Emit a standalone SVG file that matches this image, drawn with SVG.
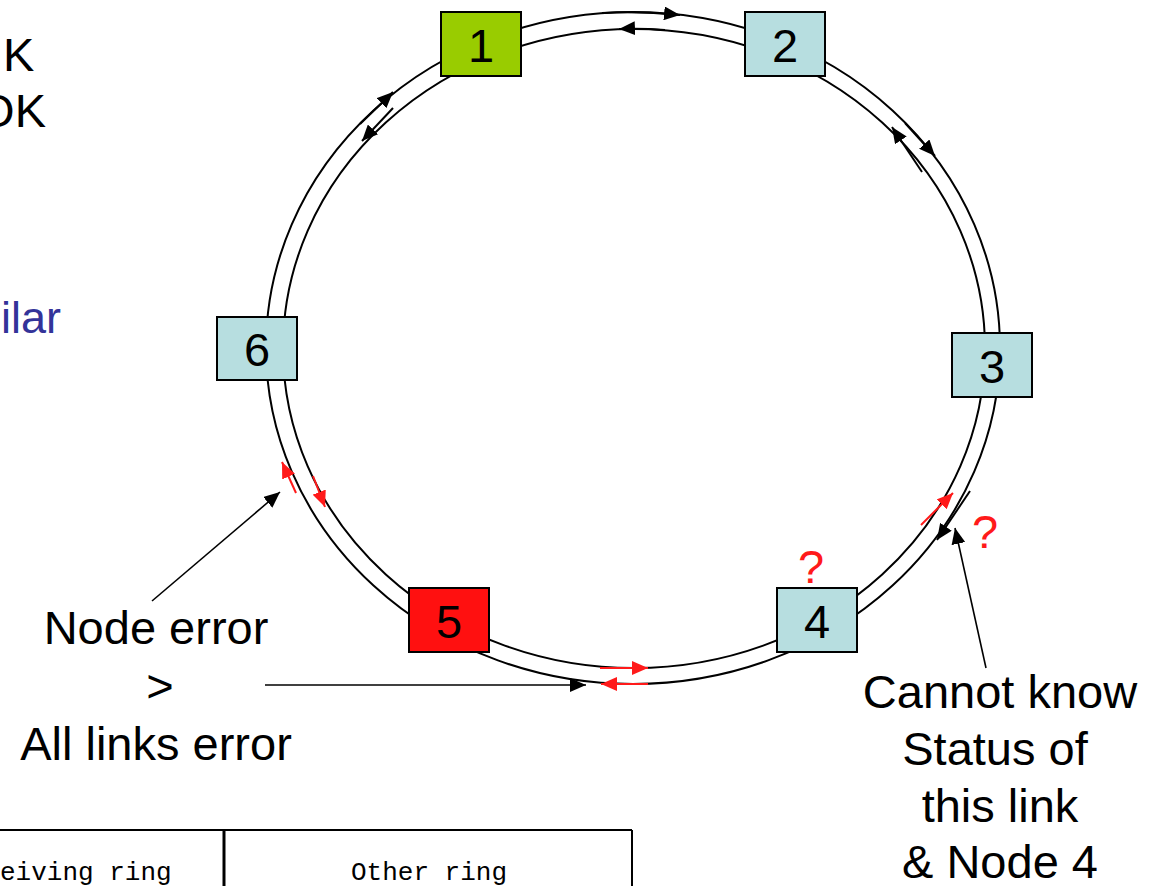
<svg xmlns="http://www.w3.org/2000/svg" width="1160" height="886" viewBox="0 0 1160 886">
  <style>
    .ring { fill: none; stroke: #000; stroke-width: 2; }
    .box { stroke: #000; stroke-width: 2; }
    .blue { fill: #b7dee0; }
    .lbl { font-family: "Liberation Sans", Arial, sans-serif; font-size: 47px; fill: #000; }
    .mid { text-anchor: middle; }
    .flow { fill: none; stroke: #000; stroke-width: 2; marker-end: url(#ah); }
    .flow-red { fill: none; stroke: #ff1a1a; stroke-width: 2; marker-end: url(#ahr); }
    .call { fill: none; stroke: #000; stroke-width: 1.6; marker-end: url(#ah); }
    .tbl { font-family: "Liberation Mono", "Courier New", monospace; font-size: 26px; fill: #000; }
  </style>
  <defs>
    <marker id="ah" markerUnits="userSpaceOnUse" markerWidth="18" markerHeight="14" refX="16" refY="7" orient="auto">
      <path d="M0,0 L16,7 L0,14 Z" fill="#000"/>
    </marker>
    <marker id="ahr" markerUnits="userSpaceOnUse" markerWidth="18" markerHeight="14" refX="16" refY="7" orient="auto">
      <path d="M0,0 L16,7 L0,14 Z" fill="#ff1a1a"/>
    </marker>
  </defs>

  <rect width="1160" height="886" fill="#fff"/>

  <!-- side text running off the left edge -->
  <text class="lbl" x="3" y="71">K</text>
  <text class="lbl" x="46" y="127" text-anchor="end">OK</text>
  <text x="1" y="333" font-family="Liberation Sans, Arial, sans-serif" font-size="45" fill="#333399">ilar</text>

  <!-- double ring -->
  <g id="ring">
    <ellipse class="ring" cx="633" cy="348" rx="367" ry="336"/>
    <ellipse class="ring" cx="634" cy="348.5" rx="351" ry="319.5"/>
  </g>

  <!-- connectors: ring traffic and callouts -->
  <g id="connectors">
    <path class="flow" d="M602,13 Q640,11 680,15"/>
    <path class="flow" d="M665,30 Q640,28 619,29"/>
    <path class="flow" d="M360,124 L393,92"/>
    <path class="flow" d="M393,108 L362,141"/>
    <path class="flow" d="M922,172 L892,127"/>
    <path class="flow" d="M905,123 L935,156"/>
    <path class="flow-red" d="M921,525 L953,493"/>
    <path class="flow" d="M970,491 L937,540"/>
    <path class="flow-red" d="M296,493 L282,462"/>
    <path class="flow-red" d="M313,476 L325,507"/>
    <path class="flow-red" d="M600,668 L648,668"/>
    <path class="flow-red" d="M648,684 L601,684"/>
    <path class="call" d="M152,601 L280,492"/>
    <path class="call" d="M265,685 L586,685"/>
    <path class="call" d="M986,668 L955,528"/>
  </g>

  <!-- ring nodes -->
  <g id="node1">
    <rect class="box" x="441" y="12" width="80" height="64" fill="#99cc00"/>
    <text class="lbl mid" x="481" y="62">1</text>
  </g>
  <g id="node2">
    <rect class="box blue" x="745" y="12" width="80" height="64"/>
    <text class="lbl mid" x="785" y="62">2</text>
  </g>
  <g id="node3">
    <rect class="box blue" x="952" y="333" width="80" height="64"/>
    <text class="lbl mid" x="992" y="383">3</text>
  </g>
  <g id="node4">
    <rect class="box blue" x="777" y="588" width="80" height="64"/>
    <text class="lbl mid" x="817" y="638">4</text>
  </g>
  <g id="node5">
    <rect class="box" x="409" y="588" width="80" height="64" fill="#ff1010"/>
    <text class="lbl mid" x="449" y="638">5</text>
  </g>
  <g id="node6">
    <rect class="box blue" x="217" y="317" width="80" height="63"/>
    <text class="lbl mid" x="257" y="366">6</text>
  </g>

  <!-- question marks -->
  <text class="lbl mid" x="811" y="583" style="fill:#ff1a1a" font-size="40">?</text>
  <text class="lbl mid" x="985" y="548" style="fill:#ff1a1a" font-size="40">?</text>

  <!-- annotations -->
  <g id="note-node-error">
    <text class="lbl mid" x="156" y="644">Node error</text>
    <text class="lbl mid" x="160" y="702">&gt;</text>
    <text class="lbl mid" x="156" y="760">All links error</text>
  </g>
  <g id="note-cannot-know">
    <text class="lbl mid" x="1000" y="708">Cannot know</text>
    <text class="lbl mid" x="995" y="765">Status of</text>
    <text class="lbl mid" x="1000" y="822">this link</text>
    <text class="lbl mid" x="1000" y="878">&amp; Node 4</text>
  </g>

  <!-- table fragment -->
  <g id="table">
    <line x1="0" y1="830" x2="632" y2="830" stroke="#000" stroke-width="2"/>
    <line x1="224" y1="830" x2="224" y2="886" stroke="#000" stroke-width="3"/>
    <line x1="632" y1="830" x2="632" y2="886" stroke="#000" stroke-width="2"/>
    <text class="tbl" x="0" y="880">eiving ring</text>
    <text class="tbl" x="429" y="880" text-anchor="middle">Other ring</text>
  </g>
</svg>
